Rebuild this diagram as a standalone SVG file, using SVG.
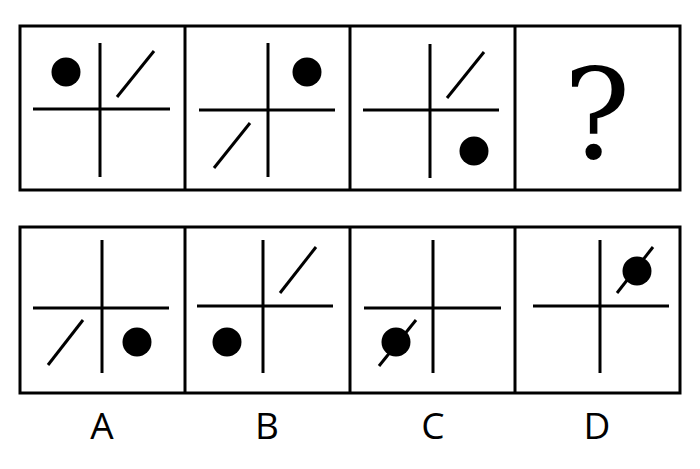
<svg xmlns="http://www.w3.org/2000/svg" width="700" height="469" viewBox="0 0 700 469">
<style>
.frame{fill:none;stroke:#000;stroke-width:3}
.ln{stroke:#000;stroke-width:3;fill:none}
.dot{fill:#000}
.lbl{font-family:"Open Sans","Liberation Sans",sans-serif;font-size:37px;text-anchor:middle;fill:#000}
.q{font-family:"DejaVu Serif","Liberation Serif",serif;font-size:125px;text-anchor:middle;fill:#000}
</style>
<rect fill="#fff" width="700" height="469"/>
<g id="top-row">
<rect class="frame" x="20" y="26" width="660" height="164"/>
<line class="ln" x1="185" y1="26" x2="185" y2="190"/>
<line class="ln" x1="350" y1="26" x2="350" y2="190"/>
<line class="ln" x1="515" y1="26" x2="515" y2="190"/>
</g>
<g id="p1">
<line class="ln" x1="100" y1="43" x2="100" y2="177"/>
<line class="ln" x1="33" y1="109" x2="170" y2="109"/>
<line class="ln" x1="117" y1="97" x2="154" y2="51"/>
<circle class="dot" cx="66" cy="72" r="14.5"/>
</g>
<g id="p2">
<line class="ln" x1="268" y1="43" x2="268" y2="177"/>
<line class="ln" x1="199" y1="110" x2="335" y2="110"/>
<line class="ln" x1="214" y1="168" x2="250" y2="123"/>
<circle class="dot" cx="307" cy="72" r="14.5"/>
</g>
<g id="p3">
<line class="ln" x1="430" y1="44" x2="430" y2="178"/>
<line class="ln" x1="363" y1="110" x2="499" y2="110"/>
<line class="ln" x1="447" y1="98" x2="484" y2="52"/>
<circle class="dot" cx="474" cy="151" r="14.5"/>
</g>
<g id="p4">
<text class="q" x="597" y="158">?</text>
</g>
<g id="bottom-row">
<rect class="frame" x="20" y="227" width="660" height="166"/>
<line class="ln" x1="185" y1="227" x2="185" y2="393"/>
<line class="ln" x1="350" y1="227" x2="350" y2="393"/>
<line class="ln" x1="515" y1="227" x2="515" y2="393"/>
</g>
<g id="optA">
<line class="ln" x1="102" y1="240" x2="102" y2="373"/>
<line class="ln" x1="33" y1="308" x2="169" y2="308"/>
<line class="ln" x1="48" y1="365" x2="83" y2="320"/>
<circle class="dot" cx="137" cy="342" r="14.5"/>
<text class="lbl" x="102" y="439">A</text>
</g>
<g id="optB">
<line class="ln" x1="263" y1="240" x2="263" y2="373"/>
<line class="ln" x1="197" y1="306" x2="333" y2="306"/>
<line class="ln" x1="280" y1="293" x2="316" y2="247"/>
<circle class="dot" cx="227" cy="342" r="14.5"/>
<text class="lbl" x="267" y="439">B</text>
</g>
<g id="optC">
<line class="ln" x1="433" y1="240" x2="433" y2="373"/>
<line class="ln" x1="364" y1="308" x2="501" y2="308"/>
<line class="ln" x1="379" y1="366" x2="416" y2="320"/>
<circle class="dot" cx="396" cy="342" r="14.5"/>
<text class="lbl" x="433" y="439">C</text>
</g>
<g id="optD">
<line class="ln" x1="600" y1="240" x2="600" y2="373"/>
<line class="ln" x1="533" y1="306" x2="669" y2="306"/>
<line class="ln" x1="617" y1="293" x2="653" y2="247"/>
<circle class="dot" cx="637" cy="271" r="14.5"/>
<text class="lbl" x="597" y="439">D</text>
</g>
</svg>
